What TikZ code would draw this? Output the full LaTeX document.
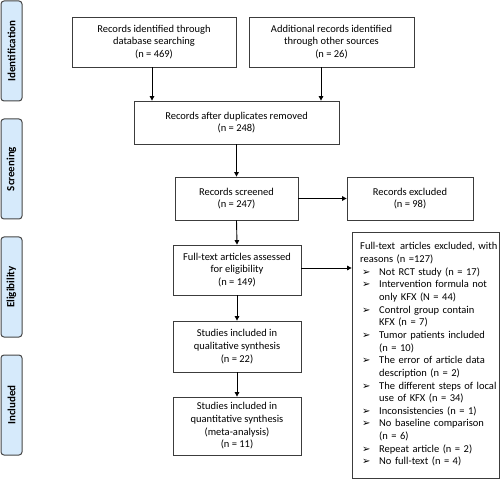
\documentclass[tikz,border=0pt]{standalone}
\usepackage{fontspec}
\setmainfont{Carlito}
\newfontfamily\symfont{DejaVu Sans}
\usetikzlibrary{arrows.meta}
\definecolor{sidefill}{RGB}{214,234,251}
\definecolor{sideline}{RGB}{70,70,70}
\definecolor{boxline}{RGB}{60,60,60}
\newcommand\bitem[1]{\par\hangindent=19pt\hangafter=1\noindent\makebox[19pt][l]{\hspace{2pt}{\symfont\fontsize{10}{10}\selectfont ➢}}#1}
\begin{document}
\begin{tikzpicture}[x=1pt,y=-1pt,
  flow/.style={draw=boxline, line width=0.8pt, align=center, inner sep=0pt,
    font=\fontsize{10.5}{12.65}\selectfont},
  side/.style={draw=sideline, fill=sidefill, rounded corners=3pt, line width=1pt,
    minimum width=100pt, minimum height=21pt, rotate=90, inner sep=0pt,
    font=\bfseries\fontsize{11}{12}\selectfont},
  arr/.style={line width=0.9pt, -{Triangle[length=4.5pt,width=4.5pt]}}]
\useasboundingbox (0,0) rectangle (500,486);
% sidebars
\node[side] (s1) at (11.5,51) {Identification};
\node[side] (s2) at (11.5,169) {Screening};
\node[side] (s3) at (11.5,287) {Eligibility};
\node[side] (s4) at (11.5,405) {Included};
% boxes
\node[flow, minimum width=164pt, minimum height=50pt] (A) at (154,42)
  {Records identified through\\database searching\\(n = 469)};
\node[flow, minimum width=165pt, minimum height=50pt] (B) at (331.5,42)
  {Additional records identified\\through other sources\\(n = 26)};
\node[flow, minimum width=205pt, minimum height=43pt] (C) at (236.5,122.5)
  {Records after duplicates removed\\(n = 248)};
\node[flow, minimum width=123pt, minimum height=43pt] (D) at (236.5,198.5)
  {Records screened\\(n = 247)};
\node[flow, minimum width=126pt, minimum height=43pt] (E) at (410,198.5)
  {Records excluded\\(n = 98)};
\node[flow, minimum width=128pt, minimum height=50pt] (F) at (237,270)
  {Full-text articles assessed\\for eligibility\\(n = 149)};
\node[flow, minimum width=128pt, minimum height=51pt] (H) at (237,346.5)
  {Studies included in\\qualitative synthesis\\(n = 22)};
\node[flow, minimum width=128pt, minimum height=58pt] (I) at (237,426)
  {Studies included in\\quantitative synthesis\\(meta-analysis)\\(n = 11)};
\node[draw=boxline, line width=0.8pt, inner sep=0pt,
  minimum width=147pt, minimum height=246pt] (G) at (425.5,355) {};
\node[inner sep=0pt, anchor=west, text width=150pt,
  font=\fontsize{10.5}{12.65}\selectfont] (Gt) at (360,354.5)
  {\raggedright Full-text\hspace{1.5pt} articles excluded, with\newline reasons (n =127)%
   \bitem{Not RCT study (n = 17)}%
   \bitem{Intervention formula not\newline only KFX (N = 44)}%
   \bitem{Control group contain\newline KFX (n = 7)}%
   \bitem{Tumor patients included\newline (n = 10)}%
   \bitem{The error of article data\newline description (n = 2)}%
   \bitem{The different steps of local\newline use of KFX (n = 34)}%
   \bitem{Inconsistencies (n = 1)}%
   \bitem{No baseline comparison\newline (n = 6)}%
   \bitem{Repeat article (n = 2)}%
   \bitem{No full-text (n = 4)}\par};
% connectors
\draw[arr] ([xshift=-2pt]A.south) -- ([xshift=-2pt]A.south |- C.north);
\draw[arr] ([xshift=-10.5pt]B.south) -- ([xshift=-10.5pt]B.south |- C.north);
\draw[arr] (C.south) -- (D.north);
\draw[arr] (D.east) -- (E.west);
\draw[arr] (D.south) -- (F.north);
\draw[arr] ([yshift=2pt]F.east) -- ([yshift=2pt]F.east -| G.west);
\draw[arr] (F.south) -- (H.north);
\draw[arr] (H.south) -- (I.north);
\end{tikzpicture}
\end{document}
